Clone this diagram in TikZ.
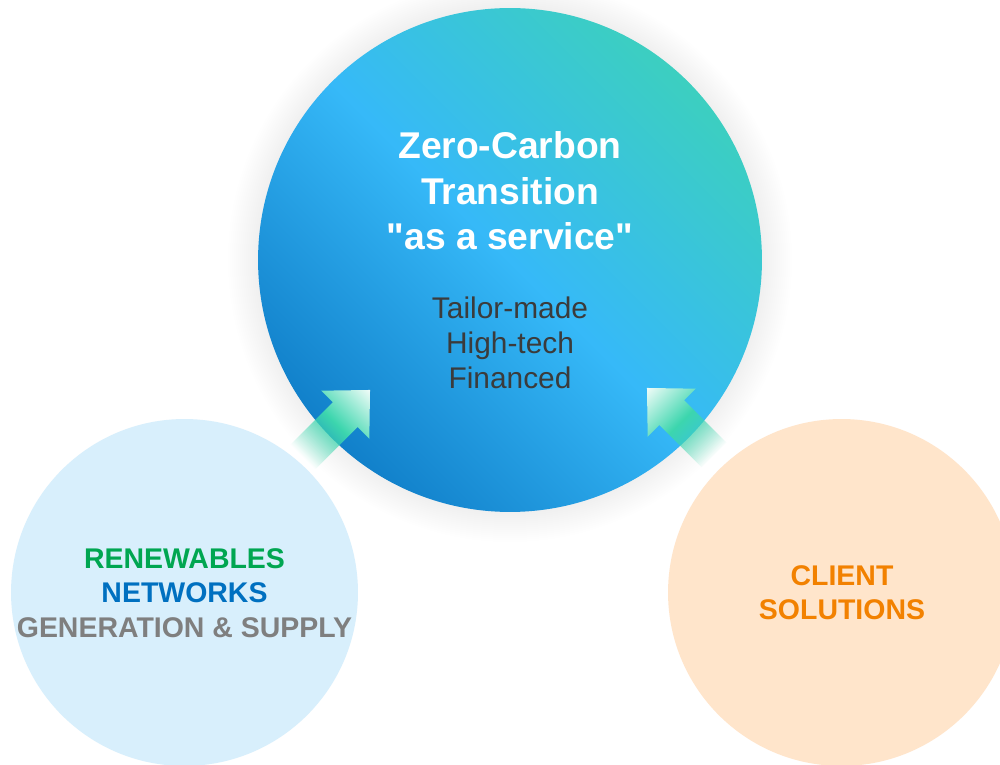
\documentclass[tikz,border=0pt]{standalone}
\usepackage{fontspec}
\setmainfont{Liberation Sans}
\usetikzlibrary{fadings}

\definecolor{hubteal}{HTML}{3CCFC0}
\definecolor{hublight}{HTML}{36B9F8}
\definecolor{hubdark}{HTML}{1180CA}
\definecolor{gridblue}{HTML}{D8EFFC}
\definecolor{clientpeach}{HTML}{FFE5CB}
\definecolor{boostgreen}{HTML}{3DD6AE}
\definecolor{boosttip}{HTML}{F0FCF8}
\definecolor{renewgreen}{HTML}{00A651}
\definecolor{netblue}{HTML}{0070C0}
\definecolor{gengray}{HTML}{7F7F7F}
\definecolor{clientorange}{HTML}{F28100}
\definecolor{subgray}{HTML}{3B3B3B}

\tikzfading[name=tailfade, left color=transparent!100, right color=transparent!0, middle color=transparent!0]

\begin{document}
\begin{tikzpicture}[x=0.02cm, y=0.02cm,
    boost/.style={left color=boostgreen, right color=boosttip, middle color=boostgreen, path fading=tailfade}]
    \useasboundingbox (0,0) rectangle (1000,764);
    \fill[white] (0,0) rectangle (1000,764);
    \clip (0,0) rectangle (1000,764);

    % soft glow round the hub
    \foreach \r in {254,256,...,282}
        \fill[black, opacity=0.005] (510,504) circle (\r);

    \node[circle, fill=gridblue, minimum size=6.94cm, inner sep=0pt] (grid) at (184.5,171.5) {};
    \node[circle, fill=clientpeach, minimum size=6.94cm, inner sep=0pt] (client) at (841.5,171.5) {};
    \node[circle, top color=hubteal, bottom color=hubdark, middle color=hublight, shading angle=-45,
          minimum size=10.08cm, inner sep=0pt] (hub) at (510,504) {};

    \node[white, font=\bfseries\fontsize{21.2}{25.8}\selectfont, align=center] (hubtitle) at (510,573)
        {Zero-Carbon\\Transition\\\textquotedbl as a service\textquotedbl};
    \node[subgray, font=\fontsize{17}{20}\selectfont, align=center] (hubsub) at (510,421.5)
        {Tailor-made\\High-tech\\Financed};

    \node[font=\bfseries\fontsize{16.2}{19.5}\selectfont, align=center] (gridtext) at (184.5,171)
        {\textcolor{renewgreen}{RENEWABLES}\\\textcolor{netblue}{NETWORKS}\\\textcolor{gengray}{GENERATION \& SUPPLY}};
    \node[clientorange, font=\bfseries\fontsize{16.2}{19.3}\selectfont, align=center] (clienttext) at (842,171)
        {CLIENT\\SOLUTIONS};

    % arrows into the hub
    \coordinate (ltip) at (370,374);
    \coordinate (rtip) at (647,376);
    \begin{scope}[transform canvas={shift={(ltip)}, rotate=45}]
        \shade[boost] (-95,-17.5) -- (-35,-17.5) -- (-35,-34) -- (0,0) -- (-35,34) -- (-35,17.5) -- (-95,17.5) -- cycle;
    \end{scope}
    \begin{scope}[transform canvas={shift={(rtip)}, rotate=135}]
        \shade[boost] (-95,-17.5) -- (-35,-17.5) -- (-35,-34) -- (0,0) -- (-35,34) -- (-35,17.5) -- (-95,17.5) -- cycle;
    \end{scope}
\end{tikzpicture}
\end{document}
